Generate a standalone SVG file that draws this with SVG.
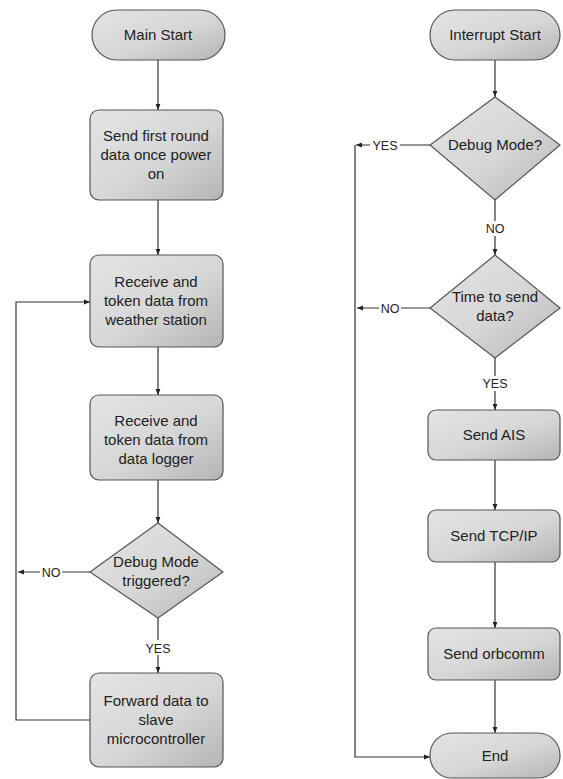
<svg xmlns="http://www.w3.org/2000/svg" width="563" height="779" viewBox="0 0 563 779">
<defs>
<linearGradient id="g" x1="0" y1="0" x2="1" y2="1">
<stop offset="0" stop-color="#e4e4e4"/>
<stop offset="0.55" stop-color="#d6d6d6"/>
<stop offset="1" stop-color="#b4b4b4"/>
</linearGradient>
<marker id="ah" viewBox="0 0 10 10" refX="10" refY="5" markerWidth="6" markerHeight="6" orient="auto" markerUnits="userSpaceOnUse">
<path d="M0,1 L10,5 L0,9 Z" fill="#222"/>
</marker>
</defs>
<style>
.s{fill:url(#g);stroke:#555;stroke-width:1.2}
.t{font-family:"Liberation Sans",Arial,sans-serif;font-size:15px;fill:#222;text-anchor:middle}
.l{font-family:"Liberation Sans",Arial,sans-serif;font-size:12.5px;fill:#222;text-anchor:middle}
.c{fill:none;stroke:#333;stroke-width:1.2}
.a{marker-end:url(#ah)}
.bg{fill:#fff;stroke:none}
</style>
<rect width="563" height="779" fill="#fff"/>
<g id="connectors">
<line class="c a" x1="158" y1="60" x2="158" y2="110"/>
<line class="c a" x1="158" y1="200" x2="158" y2="255"/>
<line class="c a" x1="158" y1="347" x2="158" y2="395"/>
<line class="c a" x1="158" y1="480" x2="158" y2="523"/>
<line class="c a" x1="158" y1="618" x2="158" y2="673"/>
<rect class="bg" x="143" y="640" width="30" height="15"/>
<text class="l" x="158" y="653">YES</text>
<line class="c a" x1="90" y1="572" x2="18" y2="572"/>
<rect class="bg" x="40" y="565" width="22" height="15"/>
<text class="l" x="51" y="577">NO</text>
<polyline class="c a" points="90,720 16,720 16,302 90,302"/>
<line class="c a" x1="495" y1="60" x2="495" y2="97"/>
<line class="c a" x1="495" y1="200" x2="495" y2="255"/>
<rect class="bg" x="484" y="221" width="22" height="15"/>
<text class="l" x="495" y="233">NO</text>
<line class="c a" x1="495" y1="358" x2="495" y2="410"/>
<rect class="bg" x="480" y="376" width="30" height="15"/>
<text class="l" x="495" y="388">YES</text>
<line class="c a" x1="495" y1="460" x2="495" y2="510"/>
<line class="c a" x1="495" y1="562" x2="495" y2="628"/>
<line class="c a" x1="495" y1="680" x2="495" y2="733"/>
<line class="c a" x1="430" y1="145" x2="356" y2="145"/>
<rect class="bg" x="370" y="138" width="30" height="15"/>
<text class="l" x="385" y="150">YES</text>
<line class="c a" x1="430" y1="308" x2="357" y2="308"/>
<rect class="bg" x="379" y="301" width="22" height="15"/>
<text class="l" x="390" y="313">NO</text>
<polyline class="c a" points="355,145 355,757 430,757"/>
</g>
<g id="main-start">
<rect class="s" x="92" y="10" width="133" height="50" rx="25"/>
<text class="t" x="158" y="40">Main Start</text>
</g>
<g id="send-first">
<rect class="s" x="90" y="110" width="133" height="90" rx="9"/>
<text class="t" x="156" y="141">Send first round</text>
<text class="t" x="156" y="160">data once power</text>
<text class="t" x="156" y="179">on</text>
</g>
<g id="recv-weather">
<rect class="s" x="90" y="255" width="133" height="92" rx="9"/>
<text class="t" x="156" y="287">Receive and</text>
<text class="t" x="156" y="306">token data from</text>
<text class="t" x="156" y="325">weather station</text>
</g>
<g id="recv-logger">
<rect class="s" x="90" y="395" width="133" height="85" rx="9"/>
<text class="t" x="156" y="426">Receive and</text>
<text class="t" x="156" y="445">token data from</text>
<text class="t" x="156" y="464">data logger</text>
</g>
<g id="debug-triggered">
<path class="s" d="M158,523 L223,572 L158,618 L90,572 Z"/>
<text class="t" x="156" y="567">Debug Mode</text>
<text class="t" x="156" y="586">triggered?</text>
</g>
<g id="forward">
<rect class="s" x="90" y="673" width="133" height="94" rx="9"/>
<text class="t" x="156" y="706">Forward data to</text>
<text class="t" x="156" y="725">slave</text>
<text class="t" x="156" y="744">microcontroller</text>
</g>
<g id="interrupt-start">
<rect class="s" x="430" y="10" width="130" height="50" rx="25"/>
<text class="t" x="495" y="40">Interrupt Start</text>
</g>
<g id="debug-mode">
<path class="s" d="M495,97 L560,145 L495,200 L430,145 Z"/>
<text class="t" x="495" y="150">Debug Mode?</text>
</g>
<g id="time-to-send">
<path class="s" d="M495,255 L560,308 L495,358 L430,308 Z"/>
<text class="t" x="495" y="302">Time to send</text>
<text class="t" x="495" y="321">data?</text>
</g>
<g id="send-ais">
<rect class="s" x="428" y="410" width="132" height="50" rx="8"/>
<text class="t" x="494" y="440">Send AIS</text>
</g>
<g id="send-tcpip">
<rect class="s" x="428" y="510" width="132" height="52" rx="8"/>
<text class="t" x="494" y="541">Send TCP/IP</text>
</g>
<g id="send-orbcomm">
<rect class="s" x="428" y="628" width="132" height="52" rx="8"/>
<text class="t" x="494" y="659">Send orbcomm</text>
</g>
<g id="end">
<rect class="s" x="430" y="733" width="130" height="45" rx="22"/>
<text class="t" x="495" y="761">End</text>
</g>
</svg>
